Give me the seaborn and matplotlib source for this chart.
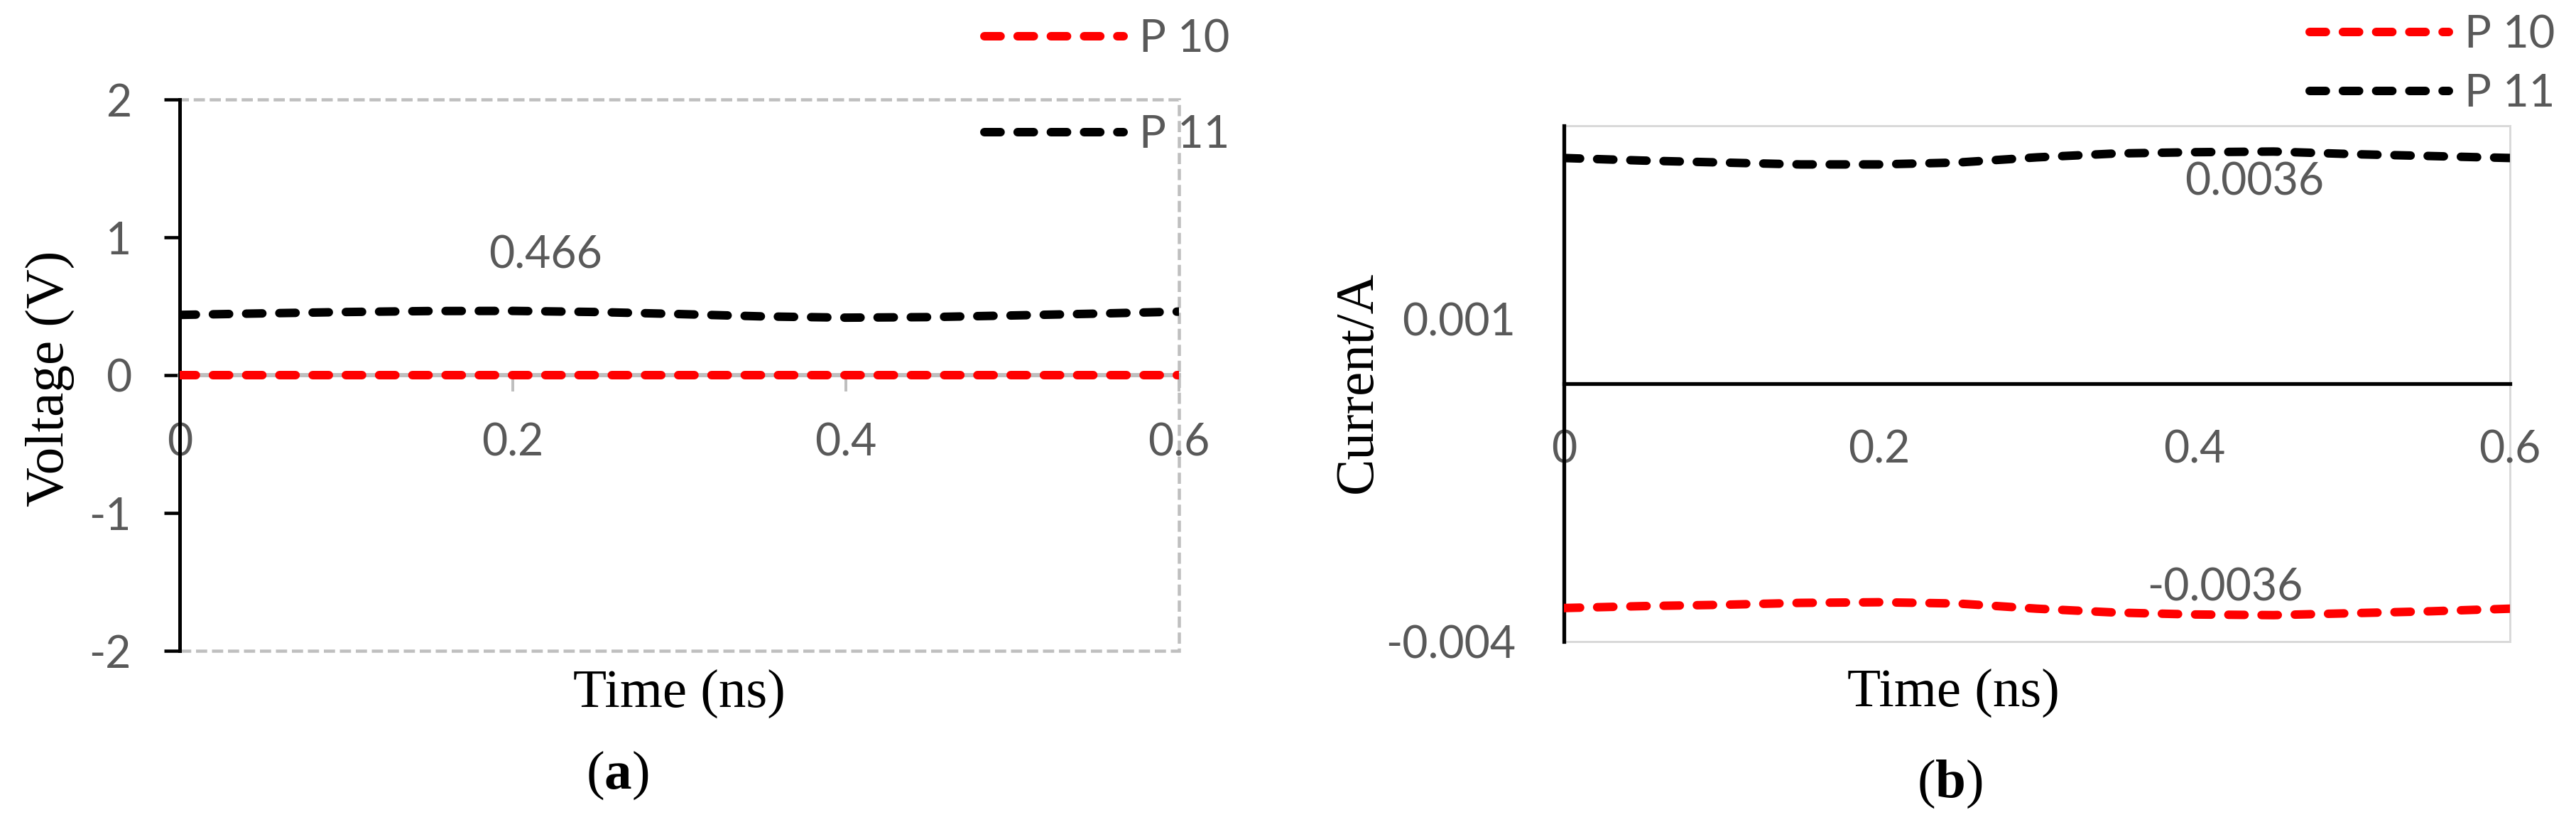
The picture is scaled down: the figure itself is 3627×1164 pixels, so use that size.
import matplotlib
matplotlib.use("Agg")
import matplotlib.pyplot as plt
from matplotlib.patches import Rectangle
import seaborn as sns
import pandas as pd

# ---------------- data ----------------
time_ns = [0.0, 0.05, 0.10, 0.15, 0.20, 0.25, 0.30, 0.35, 0.40, 0.45, 0.50, 0.55, 0.60]
voltage_p10 = [0.0, 0.0, 0.0, 0.0, 0.0, 0.0, 0.0, 0.0, 0.0, 0.0, 0.0, 0.0, 0.0]
voltage_p11 = [0.437, 0.448, 0.458, 0.465, 0.466, 0.458, 0.443, 0.426, 0.417, 0.421, 0.433, 0.446, 0.461]
current_p10 = [-0.00348, -0.00345, -0.00343, -0.00340, -0.00339, -0.00341, -0.00349,
               -0.00355, -0.00358, -0.00359, -0.00356, -0.00353, -0.00349]
current_p11 = [0.00350, 0.00346, 0.00343, 0.00340, 0.00340, 0.00343, 0.00351,
               0.00357, 0.00359, 0.00360, 0.00356, 0.00353, 0.00350]
series_names = ["P 10", "P 11"]
series_colors = ["#ff0000", "#000000"]
x_ticks = [0.0, 0.2, 0.4, 0.6]
x_tick_labels = ["0", "0.2", "0.4", "0.6"]
v_ticks = [-2, -1, 0, 1, 2]
v_tick_labels = ["-2", "-1", "0", "1", "2"]
i_ticks = [-0.004, 0.001]
i_tick_labels = ["-0.004", "0.001"]

# ---------------- style ----------------
sns.set_theme(style="white")
plt.rcParams["font.family"] = ["Lato", "DejaVu Sans"]
plt.rcParams["mathtext.fontset"] = "custom"
plt.rcParams["mathtext.rm"] = "Liberation Serif"
plt.rcParams["mathtext.bf"] = "Liberation Serif:bold"

W, H, DPI = 3627, 1164, 300
PX = 72.0 / DPI  # points per pixel
fig = plt.figure(figsize=(W / DPI, H / DPI), dpi=DPI)
fig.patch.set_facecolor("white")

ax1 = fig.add_axes([253 / W, 1 - 916 / H, 1407 / W, 776 / H])
ax2 = fig.add_axes([2202 / W, 1 - 903 / H, 1332 / W, 726 / H])

TICK_COLOR = "#595959"
TICK_FS = 15.0
SERIF = ["Liberation Serif", "DejaVu Serif"]
LABEL_FS = 18.5
LW = 12 * PX
DASH = (0, (1.9, 2.0))

df_v = pd.DataFrame({
    "Time": time_ns * 2,
    "Value": voltage_p10 + voltage_p11,
    "Series": [series_names[0]] * len(time_ns) + [series_names[1]] * len(time_ns),
})
df_i = pd.DataFrame({
    "Time": time_ns * 2,
    "Value": current_p10 + current_p11,
    "Series": [series_names[0]] * len(time_ns) + [series_names[1]] * len(time_ns),
})
palette = dict(zip(series_names, series_colors))


def draw_lines(ax, df):
    sns.lineplot(data=df, x="Time", y="Value", hue="Series", palette=palette,
                 hue_order=series_names, ax=ax, legend=False, errorbar=None,
                 sort=False, linewidth=LW, zorder=3)
    for ln in ax.lines:
        ln.set_linestyle(DASH)
        ln.set_dash_capstyle("round")
        ln.set_solid_capstyle("round")


draw_lines(ax1, df_v)
draw_lines(ax2, df_i)

# ---------------- panel (a) ----------------
ax1.set_xlim(0, 0.6)
ax1.set_ylim(-2, 2)
for s in ["top", "right"]:
    ax1.spines[s].set_visible(False)
ax1.spines["left"].set_color("black")
ax1.spines["left"].set_linewidth(5 * PX)
ax1.spines["bottom"].set_position(("data", 0))
ax1.spines["bottom"].set_color("#bfbfbf")
ax1.spines["bottom"].set_linewidth(6 * PX)
ax1.spines["bottom"].set_zorder(2)
ax1.add_patch(Rectangle((0, 0), 1, 1, transform=ax1.transAxes, fill=False,
                        edgecolor="#bfbfbf", linewidth=4.5 * PX,
                        linestyle=(0, (3.5, 1.5)), clip_on=False, zorder=0.5))
ax1.set_yticks(v_ticks)
ax1.set_yticklabels(v_tick_labels)
ax1.set_xticks(x_ticks)
ax1.set_xticklabels(x_tick_labels)
ax1.tick_params(axis="y", which="both", left=True, direction="out",
                length=22 * PX, width=4.6 * PX, color="black",
                pad=46 * PX, labelsize=TICK_FS, labelcolor=TICK_COLOR)
ax1.tick_params(axis="x", which="both", bottom=True, direction="out",
                length=23 * PX, width=4 * PX, color="#bfbfbf",
                pad=43 * PX, labelsize=TICK_FS, labelcolor=TICK_COLOR)
ax1.set_xlabel("Time (ns)", family=SERIF, fontsize=LABEL_FS, color="black")
ax1.set_ylabel("Voltage (V)", family=SERIF, fontsize=LABEL_FS, color="black")
ax1.xaxis.set_label_coords(0.5003, -0.0773)
ax1.xaxis.label.set_va("center")
ax1.yaxis.set_label_coords(-0.130, 0.4936)
ax1.yaxis.label.set_va("center")

i_lab = time_ns.index(0.20)
ax1.annotate(f"{voltage_p11[i_lab]:.3f}", xy=(time_ns[i_lab], voltage_p11[i_lab]),
             xytext=(46 * PX, 78 * PX), textcoords="offset points",
             ha="center", va="center", fontsize=TICK_FS, color=TICK_COLOR)

# ---------------- panel (b) ----------------
ax2.set_xlim(0, 0.6)
ax2.set_ylim(-0.004, 0.004)
for s in ["top", "right"]:
    ax2.spines[s].set_visible(False)
ax2.spines["left"].set_color("black")
ax2.spines["left"].set_linewidth(5.3 * PX)
ax2.spines["bottom"].set_position(("data", 0))
ax2.spines["bottom"].set_color("black")
ax2.spines["bottom"].set_linewidth(5.3 * PX)
ax2.add_patch(Rectangle((0, 0), 1, 1, transform=ax2.transAxes, fill=False,
                        edgecolor="#d9d9d9", linewidth=3 * PX,
                        clip_on=False, zorder=0.5))
ax2.set_yticks(i_ticks)
ax2.set_yticklabels(i_tick_labels)
ax2.set_xticks(x_ticks)
ax2.set_xticklabels(x_tick_labels)
ax2.tick_params(axis="y", which="both", left=True, length=0,
                pad=68 * PX, labelsize=TICK_FS, labelcolor=TICK_COLOR)
ax2.tick_params(axis="x", which="both", bottom=True, length=0,
                pad=65 * PX, labelsize=TICK_FS, labelcolor=TICK_COLOR)
ax2.set_xlabel("Time (ns)", family=SERIF, fontsize=LABEL_FS, color="black")
ax2.set_ylabel("Current/A", family=SERIF, fontsize=LABEL_FS, color="black")
ax2.xaxis.set_label_coords(0.4114, -0.099)
ax2.xaxis.label.set_va("center")
ax2.yaxis.set_label_coords(-0.2177, 0.503)
ax2.yaxis.label.set_va("center")

j_lab = time_ns.index(0.45)
ax2.annotate(f"{current_p11[j_lab]:.4f}", xy=(time_ns[j_lab], current_p11[j_lab]),
             xytext=(-27 * PX, -43 * PX), textcoords="offset points",
             ha="center", va="center", fontsize=TICK_FS, color=TICK_COLOR)
ax2.annotate(f"{current_p10[j_lab]:.4f}", xy=(time_ns[j_lab], current_p10[j_lab]),
             xytext=(-68 * PX, 38 * PX), textcoords="offset points",
             ha="center", va="center", fontsize=TICK_FS, color=TICK_COLOR)

# ---------------- legends ----------------
LEG_FS = 15.2


def add_legend(ax, x_px, top_px, spacing):
    handles = ax.lines[:2]
    leg = ax.legend(handles, series_names, loc="upper left",
                    bbox_to_anchor=(x_px / W, 1 - top_px / H),
                    bbox_transform=fig.transFigure, frameon=False,
                    fontsize=LEG_FS, handlelength=3.1, handletextpad=0.35,
                    labelspacing=spacing, borderpad=0, borderaxespad=0)
    for t in leg.get_texts():
        t.set_color(TICK_COLOR)
    for lh in leg.get_lines():
        lh.set_linestyle(DASH)
        lh.set_dash_capstyle("round")
        lh.set_linewidth(LW)
    return leg


add_legend(ax1, 1386, 26, 1.22)
add_legend(ax2, 3252, 20, 0.40)

# ---------------- panel captions ----------------
fig.text(869 / W, 1 - 1091 / H, r"($\mathbf{a}$)", ha="center", va="center",
         family=SERIF, fontsize=LABEL_FS, color="black")
fig.text(2745 / W, 1 - 1103 / H, r"($\mathbf{b}$)", ha="center", va="center",
         family=SERIF, fontsize=LABEL_FS, color="black")

fig.savefig("out.png", dpi=DPI, facecolor="white")
